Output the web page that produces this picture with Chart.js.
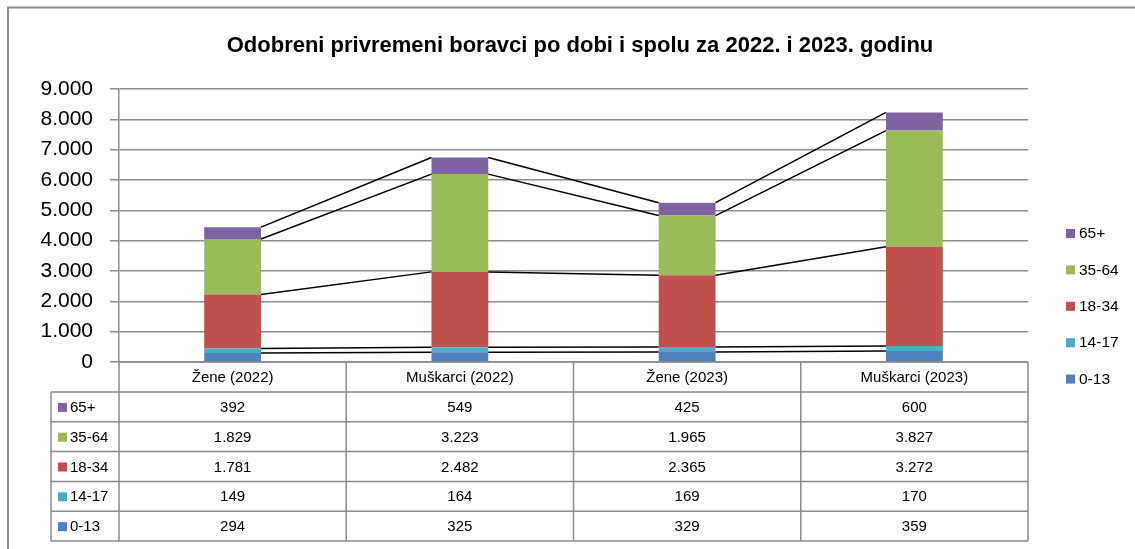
<!DOCTYPE html>
<html>
<head>
<meta charset="utf-8">
<script src="https://cdn.jsdelivr.net/npm/chart.js@4/dist/chart.umd.min.js"></script>
<style>
  html, body { margin: 0; padding: 0; background: #fff; }
  #wrap { width: 1135px; height: 549px; position: relative; }
</style>
</head>
<body>
<div id="wrap"><canvas id="chart" width="1135" height="549"></canvas></div>
<script>
const categories = ['Žene (2022)', 'Muškarci (2022)', 'Žene (2023)', 'Muškarci (2023)'];
const age0to13   = [294, 325, 329, 359];
const age14to17  = [149, 164, 169, 170];
const age18to34  = [1781, 2482, 2365, 3272];
const age35to64  = [1829, 3223, 1965, 3827];
const age65plus  = [392, 549, 425, 600];
const seriesNames  = ['0-13', '14-17', '18-34', '35-64', '65+'];
const seriesColors = ['#4f81bd', '#4bacc6', '#c0504d', '#9bbb59', '#8064a2'];
const yTicks = [0, 1000, 2000, 3000, 4000, 5000, 6000, 7000, 8000, 9000];
const chartTitle = 'Odobreni privremeni boravci po dobi i spolu za 2022. i 2023. godinu';

const FONT = '"Liberation Sans", Arial, sans-serif';
const GRID = '#8c8c8c';

function fmt(v) {
  return String(v).replace(/\B(?=(\d{3})+(?!\d))/g, '.');
}

const seriesData = [age0to13, age14to17, age18to34, age35to64, age65plus];

// Excel style "series lines" between the stacked bars
const seriesLines = {
  id: 'seriesLines',
  afterDatasetsDraw(chart) {
    const ctx = chart.ctx;
    ctx.save();
    ctx.strokeStyle = '#000';
    ctx.lineWidth = 1.5;
    chart.data.datasets.forEach((ds, i) => {
      const bars = chart.getDatasetMeta(i).data;
      for (let j = 0; j < bars.length - 1; j++) {
        const a = bars[j], b = bars[j + 1];
        ctx.beginPath();
        ctx.moveTo(a.x + a.width / 2, a.y);
        ctx.lineTo(b.x - b.width / 2, b.y);
        ctx.stroke();
      }
    });
    ctx.restore();
  }
};

// title, data table under the plot, legend on the right, outer frame
const dataTable = {
  id: 'dataTable',
  afterDraw(chart) {
    const ctx = chart.ctx;
    const area = chart.chartArea;
    const x = chart.scales.x;
    const n = categories.length;
    const step = (area.right - area.left) / n;
    const headH = 30, rowH = 29.8;
    const keyLeft = 51;
    const top = area.bottom;
    const rows = seriesNames.length;
    const bottom = top + headH + rows * rowH;

    ctx.save();

    ctx.fillStyle = '#000';
    ctx.font = 'bold 22px ' + FONT;
    ctx.textAlign = 'center';
    ctx.textBaseline = 'middle';
    ctx.fillText(chartTitle, 580, 46);

    ctx.strokeStyle = GRID;
    ctx.lineWidth = 1.5;

    // horizontal lines
    ctx.beginPath();
    ctx.moveTo(area.left, top); ctx.lineTo(area.right, top);
    for (let r = 0; r <= rows; r++) {
      const y = top + headH + r * rowH;
      ctx.moveTo(keyLeft, y); ctx.lineTo(area.right, y);
    }
    // vertical lines
    for (let c = 0; c <= n; c++) {
      const xx = area.left + c * step;
      ctx.moveTo(xx, top); ctx.lineTo(xx, bottom);
    }
    ctx.moveTo(keyLeft, top + headH); ctx.lineTo(keyLeft, bottom);
    ctx.stroke();

    ctx.font = '15px ' + FONT;
    categories.forEach((c, j) => {
      ctx.fillText(c, x.getPixelForValue(j), top + headH / 2 + 1);
    });

    for (let r = 0; r < rows; r++) {
      const s = rows - 1 - r;
      const cy = top + headH + r * rowH + rowH / 2 + 1;
      ctx.fillStyle = seriesColors[s];
      ctx.fillRect(keyLeft + 7, cy - 5, 9, 9);
      ctx.fillStyle = '#000';
      ctx.textAlign = 'left';
      ctx.fillText(seriesNames[s], keyLeft + 19, cy);
      ctx.textAlign = 'center';
      seriesData[s].forEach((v, j) => {
        ctx.fillText(fmt(v), x.getPixelForValue(j), cy);
      });
    }

    // legend
    ctx.font = '15.5px ' + FONT;
    ctx.textAlign = 'left';
    for (let r = 0; r < rows; r++) {
      const s = rows - 1 - r;
      const cy = 234 + r * 36.4;
      ctx.fillStyle = seriesColors[s];
      ctx.fillRect(1066, cy - 5, 9, 9);
      ctx.fillStyle = '#000';
      ctx.fillText(seriesNames[s], 1079, cy);
    }

    // outer frame
    ctx.strokeStyle = '#8c8c8c';
    ctx.lineWidth = 2;
    ctx.beginPath();
    ctx.moveTo(8, 549); ctx.lineTo(8, 7.5); ctx.lineTo(1135, 7.5);
    ctx.stroke();
    ctx.restore();
  }
};

new Chart(document.getElementById('chart'), {
  type: 'bar',
  data: {
    labels: categories,
    datasets: seriesData.map((d, i) => ({
      label: seriesNames[i],
      data: d,
      backgroundColor: seriesColors[i],
      borderWidth: 0,
      categoryPercentage: 1,
      barPercentage: 0.25
    }))
  },
  options: {
    responsive: false,
    animation: false,
    layout: { padding: { left: 0, right: 107, top: 89, bottom: 187 } },
    plugins: {
      legend: { display: false },
      tooltip: { enabled: false },
      title: { display: false }
    },
    scales: {
      x: {
        stacked: true,
        display: false
      },
      y: {
        stacked: true,
        min: 0,
        max: 9000,
        afterFit: s => { s.width = 119; },
        afterBuildTicks: s => { s.ticks = yTicks.map(v => ({ value: v })); },
        border: { display: true, color: GRID, width: 1.5 },
        grid: { color: GRID, lineWidth: 1.5, tickLength: 9 },
        ticks: {
          color: '#000',
          padding: 17,
          font: { family: FONT, size: 21 },
          callback: v => fmt(v)
        }
      }
    }
  },
  plugins: [seriesLines, dataTable]
});
</script>
</body>
</html>
